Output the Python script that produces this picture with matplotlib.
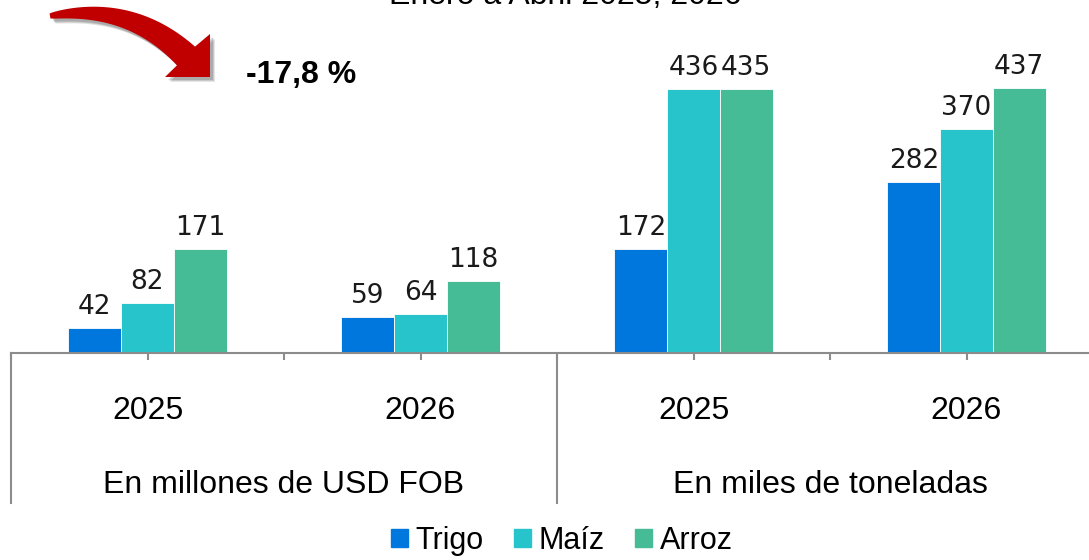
import matplotlib
matplotlib.use("Agg")
import matplotlib.pyplot as plt
import matplotlib.patches as mpatches
import numpy as np

# ── data ─────────────────────────────────────────────────────────────────────
years = ["2025", "2026", "2025", "2026"]
groups = ["En millones de USD FOB", "En miles de toneladas"]
series = ["Trigo", "Maíz", "Arroz"]
trigo = [42, 59, 172, 282]
maiz = [82, 64, 436, 370]
arroz = [171, 118, 435, 437]
title = "Enero a Abril 2025, 2026"
change_label = "-17,8 %"

_BLUE = "#0077DD"
_CYAN = "#27C4CB"
_GREEN = "#45BB96"
_RED = "#C00000"
_GRAY = "#8C8C8C"

W, H = 1089, 560
fig = plt.figure(figsize=(W / 100, H / 100), dpi=100)

# axes: baseline at y=353 px, category width 273 px, starts at x=11
ax = fig.add_axes([11 / W, (H - 353) / H, 1092 / W, 353 / H])
ax.set_xlim(-0.5, 3.5)
ax.set_ylim(0, 582)

x = np.arange(len(years))
bw = 0.193
for vals, off, col in [(trigo, -bw, _BLUE), (maiz, 0, _CYAN), (arroz, bw, _GREEN)]:
    ax.bar(x + off, vals, width=bw, color=col, edgecolor="white", linewidth=0.6)
    for xi, v in zip(x + off, vals):
        ax.annotate(str(v), (xi, v), xytext=(0, 14), textcoords="offset pixels",
                    ha="center", va="baseline", fontsize=19, color="#1a1a1a",
                    family="DejaVu Sans")

for s in ["top", "right", "left"]:
    ax.spines[s].set_visible(False)
ax.spines["bottom"].set_color(_GRAY)
ax.spines["bottom"].set_linewidth(1.5)
ax.set_yticks([])
ax.set_xticks(np.arange(-0.5, 3.51, 0.5))
ax.set_xticklabels([])
ax.tick_params(axis="x", length=5, width=1.5, color=_GRAY, direction="out")

trans = ax.get_xaxis_transform()
ax_h = 353
for xi, yr in zip(x, years):
    ax.text(xi, -(411 - 353) / ax_h, yr, transform=trans, ha="center", va="center",
            fontsize=23, family="Liberation Sans", color="black")
for gi, g in enumerate(groups):
    ax.text(gi * 2 + 0.5, -(485 - 353) / ax_h, g, transform=trans, ha="center",
            va="center", fontsize=23, family="Liberation Sans", color="black")
for sep in [-0.5, 1.5]:
    ax.plot([sep, sep], [0, -(503 - 353) / ax_h], transform=trans, color=_GRAY,
            linewidth=1.5, clip_on=False)

# title (cropped at the top edge in the reference)
fig.text(565 / W, 1 - 4 / H, title, ha="center", va="baseline", fontsize=23,
         family="Liberation Sans", color="black")

# change label
fig.text(301 / W, 1 - 75 / H, change_label, ha="center", va="center", fontsize=23,
         fontweight="bold", family="Liberation Sans", color="black")


# curved red arrow (pixel coords, y from top)
def _px(pts):
    pts = np.asarray(pts, dtype=float)
    return np.column_stack([pts[:, 0] / W, 1 - pts[:, 1] / H])


def _arrow_pts():
    p0 = np.array([50.0, 16.0])
    p1 = np.array([130.0, 2.0])
    p2 = np.array([186.0, 56.0])
    t = np.linspace(0, 1, 60)[:, None]
    c = (1 - t) ** 2 * p0 + 2 * (1 - t) * t * p1 + t ** 2 * p2
    d = 2 * (1 - t) * (p1 - p0) + 2 * t * (p2 - p1)
    d = d / np.linalg.norm(d, axis=1, keepdims=True)
    n = np.column_stack([d[:, 1], -d[:, 0]])
    w = (5 + 21 * t[:, 0] ** 0.7)[:, None] / 2
    upper = c + n * w
    lower = c - n * w
    return np.vstack([upper, [[210.0, 34.0]], [[210.0, 77.0]], [[165.0, 77.0]],
                      lower[::-1]])


pts = _arrow_pts()
for k, a in [(5, 0.10), (4, 0.12), (3, 0.15)]:
    fig.patches.append(mpatches.Polygon(_px(pts + np.array([k, k])), closed=True,
                                        transform=fig.transFigure, facecolor="#000000",
                                        alpha=a, edgecolor="none", zorder=1))
fig.patches.append(mpatches.Polygon(_px(pts), closed=True, transform=fig.transFigure,
                                    facecolor=_RED, edgecolor="none", zorder=2))

# legend
handles = [mpatches.Patch(color=c, label=s) for c, s in zip([_BLUE, _CYAN, _GREEN], series)]
fig.legend(handles=handles, loc="center", bbox_to_anchor=(562 / W, 1 - 541 / H), ncol=3,
           frameon=False, handlelength=0.55, handleheight=0.55, handletextpad=0.25,
           columnspacing=1.0, prop={"family": "Liberation Sans", "size": 22})

fig.savefig("out.png", dpi=100)
